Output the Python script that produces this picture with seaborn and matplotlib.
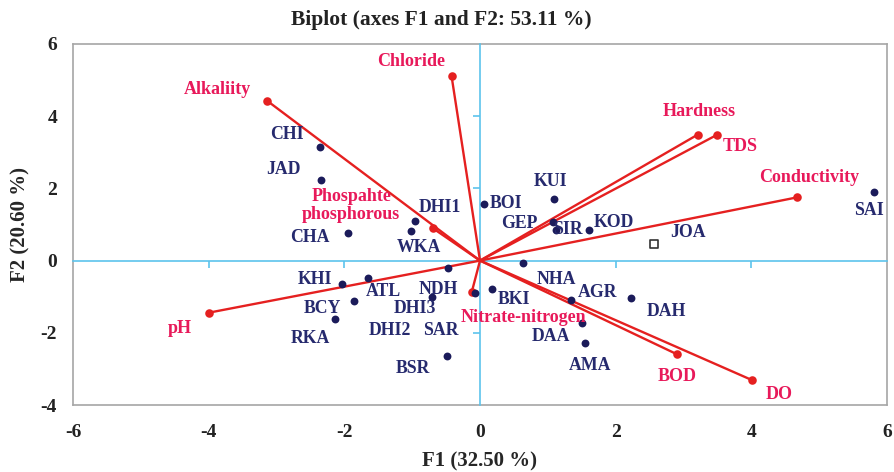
import matplotlib
matplotlib.use("Agg")
import matplotlib.pyplot as plt
import seaborn as sns
import pandas as pd

# ---- data ----
obs_names = ["CHI", "JAD", "CHA", "DHI1", "WKA", "BOI", "KUI", "GEP", "SIR", "KOD",
             "SAI", "NHA", "KHI", "ATL", "BCY", "RKA", "NDH", "DHI3", "SAR", "BSR",
             "BKI", "AGR", "DAH", "DAA", "AMA"]
obs_f1 = [-2.36, -2.35, -1.95, -0.96, -1.02, 0.06, 1.09, 1.08, 1.12, 1.60,
          5.81, 0.64, -2.03, -1.65, -1.86, -2.14, -0.47, -0.71, -0.07, -0.49,
          0.17, 1.34, 2.22, 1.51, 1.55]
obs_f2 = [3.16, 2.22, 0.77, 1.10, 0.83, 1.57, 1.70, 1.08, 0.84, 0.85,
          1.89, -0.06, -0.65, -0.49, -1.12, -1.63, -0.21, -1.00, -0.91, -2.63,
          -0.79, -1.09, -1.04, -1.72, -2.27]

sup_name = ["JOA"]
sup_f1 = [2.57]
sup_f2 = [0.46]

var_names = ["Alkaliity", "Chloride", "Phospahte\nphosphorous", "Hardness", "TDS",
             "Conductivity", "pH", "Nitrate-nitrogen", "BOD", "DO"]
var_f1 = [-3.14, -0.42, -0.69, 3.21, 3.50, 4.67, -3.99, -0.12, 2.91, 4.01]
var_f2 = [4.43, 5.12, 0.89, 3.49, 3.49, 1.75, -1.44, -0.86, -2.60, -3.31]

x_ticks = [-6, -4, -2, 0, 2, 4, 6]
y_ticks = [-4, -2, 0, 2, 4, 6]

# ---- layout (label offsets in pixels: right, down) ----
obs_off = {"CHI": (-33, -12), "JAD": (-37, -11), "CHA": (-38, 5), "DHI1": (25, -13),
           "WKA": (8, 17), "BOI": (22, 0), "KUI": (-3, -18), "GEP": (-34, 2),
           "SIR": (12, -1), "KOD": (25, -7), "SAI": (-5, 18), "NHA": (33, 17),
           "KHI": (-27, -5), "ATL": (15, 13), "BCY": (-31, 7), "RKA": (-24, 19),
           "NDH": (-10, 21), "DHI3": (-17, 12), "SAR": (-34, 37), "BSR": (-34, 13),
           "BKI": (22, 10), "AGR": (27, -7), "DAH": (36, 13), "DAA": (-31, 14),
           "AMA": (5, 23), "JOA": (34, -11)}
extra_labels = [("DHI2", "DHI3", (-42, 34))]
var_off = {"Alkaliity": (-50, -11), "Chloride": (-40, -14),
           "Phospahte\nphosphorous": (-82, -23), "Hardness": (1, -23),
           "TDS": (23, 12), "Conductivity": (12, -20), "pH": (-30, 16),
           "Nitrate-nitrogen": (52, 26), "BOD": (0, 22), "DO": (27, 14)}

NAVY = "#262a6e"
PT_NAVY = "#1b1b5a"
PINK = "#e8195a"
RED = "#e52020"
BLUE = "#5cc3ec"
GRAY = "#a6a6a6"

sns.set_theme(style="white")
plt.rcParams["font.family"] = ["Liberation Serif", "DejaVu Serif"]

fig = plt.figure(figsize=(8.95, 4.72), dpi=100)
pos = [73 / 895, 1 - 405 / 472, (887 - 73) / 895, (405 - 44) / 472]

# background axes: gray frame + tick labels
ax_bg = fig.add_axes(pos)
ax_bg.set_xlim(-6, 6)
ax_bg.set_ylim(-4, 6)
ax_bg.set_xticks(x_ticks)
ax_bg.set_yticks(y_ticks)
ax_bg.set_xticklabels([str(t) for t in x_ticks], fontsize=14, fontweight="bold")
ax_bg.set_yticklabels([str(t) for t in y_ticks], fontsize=14, fontweight="bold")
ax_bg.tick_params(axis="x", length=0, pad=14, colors="#222222")
ax_bg.tick_params(axis="y", length=0, pad=11.5, colors="#222222")
for s in ax_bg.spines.values():
    s.set_color(GRAY)
    s.set_linewidth(1.2)
ax_bg.set_xlabel("F1 (32.50 %)", fontsize=15, fontweight="bold", labelpad=7)
ax_bg.set_ylabel("F2 (20.60 %)", fontsize=15, fontweight="bold", labelpad=7)
ax_bg.grid(False)

# foreground axes: zero axes + data
ax = fig.add_axes(pos)
ax.patch.set_alpha(0)
ax.set_xlim(-6, 6)
ax.set_ylim(-4, 6)
for side in ["top", "right"]:
    ax.spines[side].set_visible(False)
for side in ["left", "bottom"]:
    ax.spines[side].set_position(("data", 0))
    ax.spines[side].set_color(BLUE)
    ax.spines[side].set_linewidth(1.2)
    ax.spines[side].set_zorder(0.5)
ax.set_xticks([-4, -2, 2, 4])
ax.set_yticks([-2, 2, 4])
ax.tick_params(direction="out", length=5, width=1.2, color=BLUE,
               labelbottom=False, labelleft=False, left=True, bottom=True)
ax.grid(False)

# variable vectors
for vx, vy in zip(var_f1, var_f2):
    ax.plot([0, vx], [0, vy], color=RED, lw=1.7, zorder=2, solid_capstyle="round")
vars_df = pd.DataFrame({"F1": var_f1, "F2": var_f2, "name": var_names})
sns.scatterplot(data=vars_df, x="F1", y="F2", ax=ax, color=RED, s=38,
                edgecolor=RED, linewidth=0, zorder=3, legend=False)

# observations
obs_df = pd.DataFrame({"F1": obs_f1, "F2": obs_f2, "name": obs_names})
sns.scatterplot(data=obs_df, x="F1", y="F2", ax=ax, color=PT_NAVY, s=32,
                edgecolor=PT_NAVY, linewidth=0, zorder=4, legend=False)
sup_df = pd.DataFrame({"F1": sup_f1, "F2": sup_f2, "name": sup_name})
sns.scatterplot(data=sup_df, x="F1", y="F2", ax=ax, marker="s", s=30,
                facecolor="white", edgecolor="#333333", linewidth=1.2,
                zorder=4, legend=False)
ax.set_xlabel("")
ax.set_ylabel("")

lab_kw = dict(textcoords="offset pixels", ha="center", va="center",
              fontweight="bold", zorder=5)
for n, x, y in zip(obs_names + sup_name, obs_f1 + sup_f1, obs_f2 + sup_f2):
    dx, dy = obs_off[n]
    ax.annotate(n, (x, y), xytext=(dx, -dy), color=NAVY, fontsize=12.8, **lab_kw)
idx = {n: i for i, n in enumerate(obs_names)}
for lab, anchor, (dx, dy) in extra_labels:
    i = idx[anchor]
    ax.annotate(lab, (obs_f1[i], obs_f2[i]), xytext=(dx, -dy), color=NAVY,
                fontsize=12.8, **lab_kw)
for n, x, y in zip(var_names, var_f1, var_f2):
    dx, dy = var_off[n]
    ax.annotate(n, (x, y), xytext=(dx, -dy), color=PINK, fontsize=13,
                linespacing=1.1, **lab_kw)

fig.text(441 / 895, 1 - 20 / 472, "Biplot (axes F1 and F2: 53.11 %)",
         ha="center", va="center", fontsize=15.5, fontweight="bold", color="#222222")

fig.savefig("out.png", dpi=100)
